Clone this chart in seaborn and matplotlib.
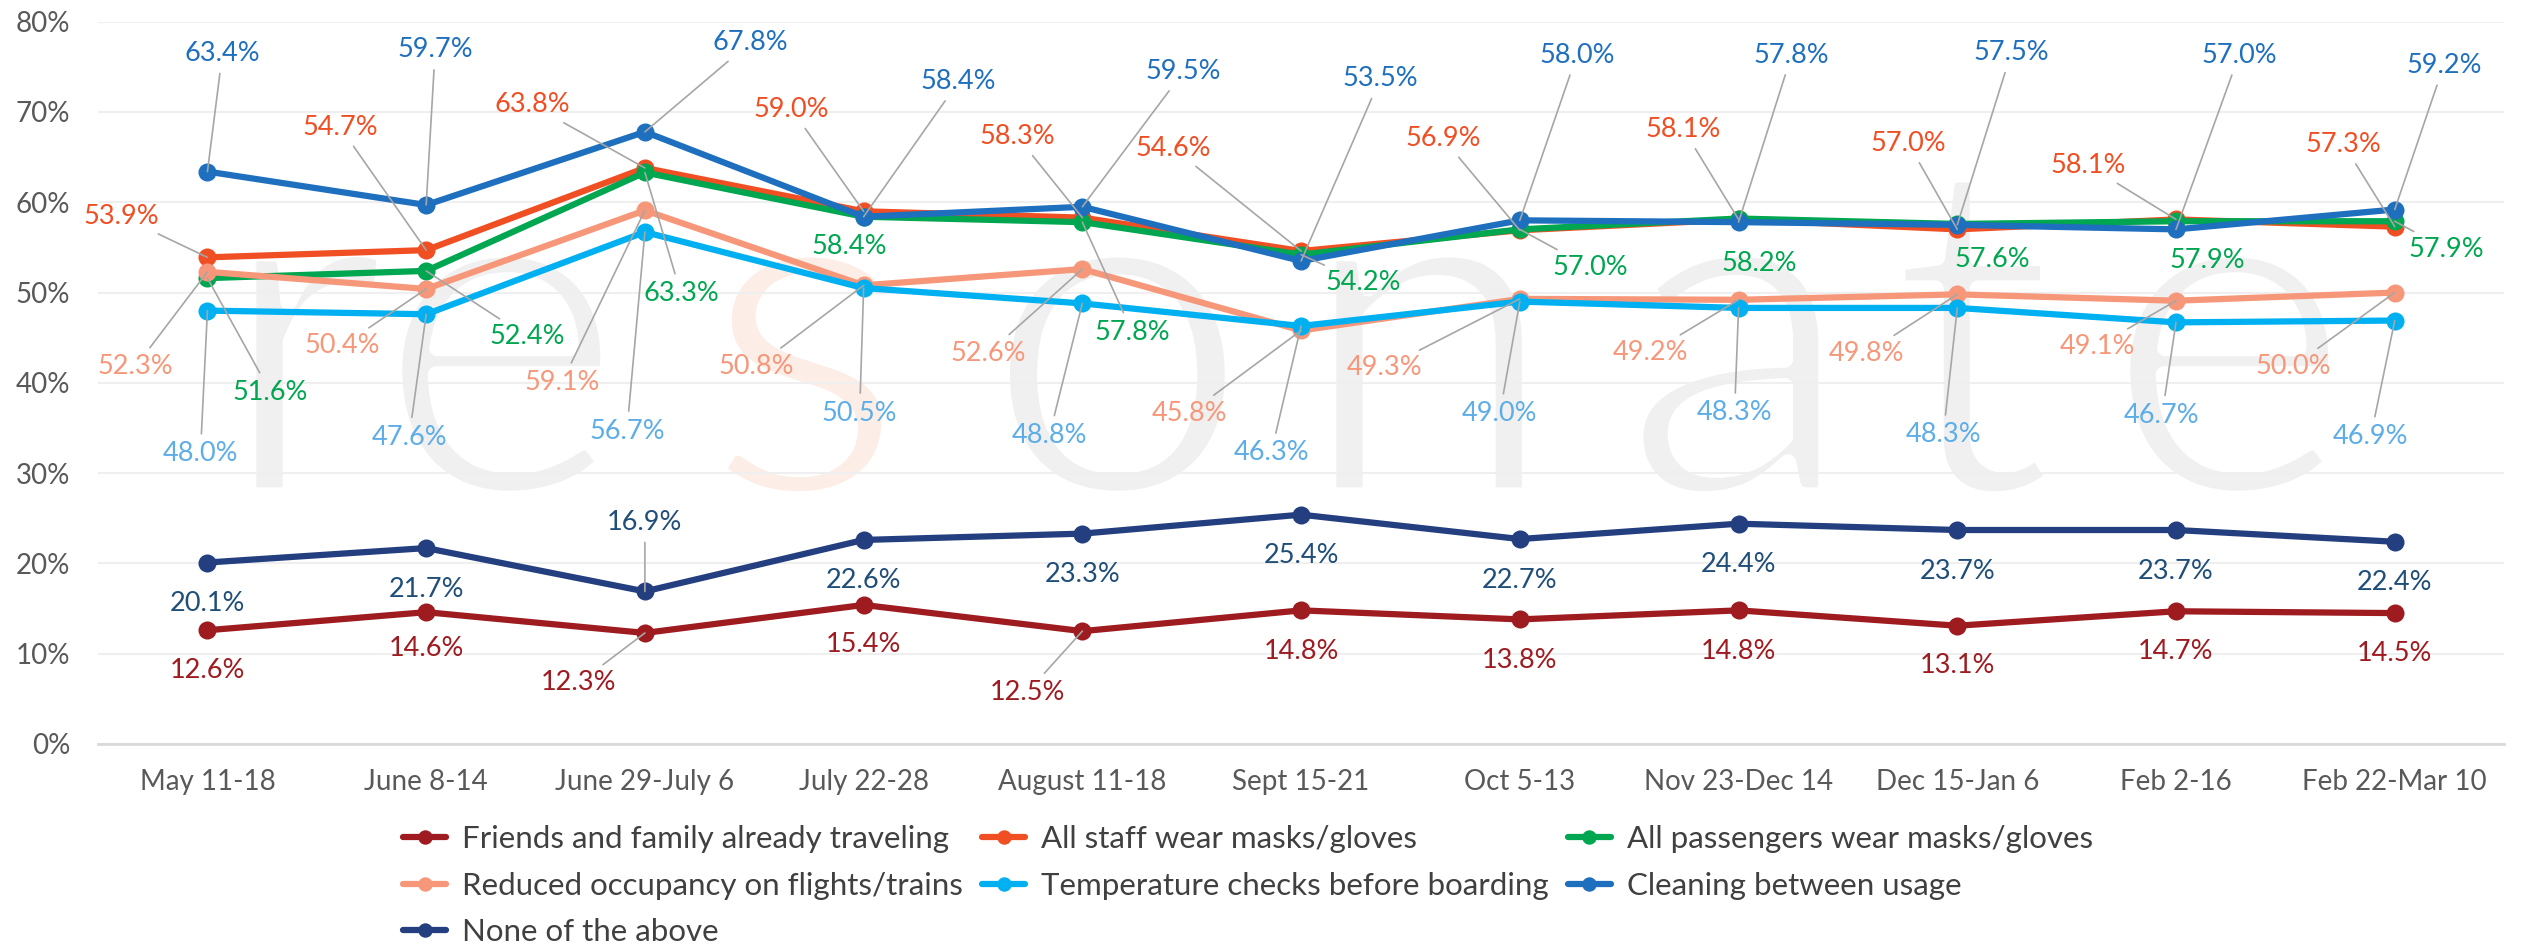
import matplotlib.pyplot as plt
import matplotlib.patheffects as pe
import numpy as np
import pandas as pd
import seaborn as sns

# Survey waves
periods = [
    "May 11-18", "June 8-14", "June 29-July 6", "July 22-28", "August 11-18",
    "Sept 15-21", "Oct 5-13", "Nov 23-Dec 14", "Dec 15-Jan 6", "Feb 2-16",
    "Feb 22-Mar 10",
]

# Share of respondents (%) per wave
friends_family = [12.6, 14.6, 12.3, 15.4, 12.5, 14.8, 13.8, 14.8, 13.1, 14.7, 14.5]
staff_masks = [53.9, 54.7, 63.8, 59.0, 58.3, 54.6, 56.9, 58.1, 57.0, 58.1, 57.3]
passenger_masks = [51.6, 52.4, 63.3, 58.4, 57.8, 54.2, 57.0, 58.2, 57.6, 57.9, 57.9]
reduced_occupancy = [52.3, 50.4, 59.1, 50.8, 52.6, 45.8, 49.3, 49.2, 49.8, 49.1, 50.0]
temperature_checks = [48.0, 47.6, 56.7, 50.5, 48.8, 46.3, 49.0, 48.3, 48.3, 46.7, 46.9]
cleaning = [63.4, 59.7, 67.8, 58.4, 59.5, 53.5, 58.0, 57.8, 57.5, 57.0, 59.2]
none_above = [20.1, 21.7, 16.9, 22.6, 23.3, 25.4, 22.7, 24.4, 23.7, 23.7, 22.4]

series_names = [
    "Friends and family already traveling",
    "All staff wear masks/gloves",
    "All passengers wear masks/gloves",
    "Reduced occupancy on flights/trains",
    "Temperature checks before boarding",
    "Cleaning between usage",
    "None of the above",
]
series_values = [
    friends_family, staff_masks, passenger_masks, reduced_occupancy,
    temperature_checks, cleaning, none_above,
]

line_colors = ["#9E1B20", "#F04E23", "#00A650", "#F7977A", "#00B0F0", "#1F6FBF", "#243F7F"]
label_colors = ["#9E1B20", "#F04E23", "#00A650", "#F7977A", "#5DADE8", "#1F6FBF", "#1F4E79"]

# where each value label sits relative to its point (pixels, up is positive)
label_offsets = [
    [(0, -40), (0, -36), (-66, -50), (0, -40), (-55, -61), (0, -41), (0, -41),
     (0, -41), (0, -40), (0, -40), (0, -40)],
    [(-86, 41), (-86, 123), (-113, 63), (-72, 102), (-65, 81), (-128, 103),
     (-77, 92), (-55, 90), (-49, 86), (-88, 54), (-51, 82)],
    [(63, -114), (101, -66), (36, -121), (-14, -30), (50, -110), (62, -28),
     (70, -38), (21, -45), (35, -36), (31, -39), (52, -28)],
    [(-72, -95), (-84, -57), (-83, -172), (-107, -81), (-94, -84), (-112, -83),
     (-135, -69), (-88, -53), (-91, -59), (-79, -46), (-102, -74)],
    [(-7, -143), (-17, -123), (-18, -199), (-4, -125), (-33, -132), (-30, -127),
     (-20, -112), (-4, -105), (-14, -127), (-14, -93), (-24, -116)],
    [(15, 118), (9, 155), (105, 89), (95, 135), (101, 135), (79, 182),
     (57, 165), (53, 167), (54, 172), (63, 174), (49, 144)],
    [(0, -41), (0, -41), (0, 69), (0, -41), (0, -41), (0, -41), (0, -41),
     (0, -41), (0, -41), (0, -41), (0, -41)],
]

# watermark letters and where they sit along the category axis
watermark_letters = list("resonate")
watermark_x = [0.43, 1.34, 2.73, 4.16, 5.58, 7.0, 8.07, 9.24]
watermark_colors = ["#F0F0F0", "#F0F0F0", "#FCEEE6", "#F0F0F0", "#F0F0F0",
                    "#F0F0F0", "#F0F0F0", "#F0F0F0"]

sns.set_style("white")
plt.rcParams["font.family"] = ["Lato", "DejaVu Sans"]

fig = plt.figure(figsize=(25.21, 9.48), dpi=100)
ax = fig.add_axes([0.0389, 0.2152, 0.9544, 0.7619])

# faint brand watermark behind the data (white outline thins the strokes)
thin = [pe.Normal(), pe.Stroke(linewidth=12, foreground="white")]
for letter, wx, wc in zip(watermark_letters, watermark_x, watermark_colors):
    ax.text(wx, 27.5, letter, ha="center", va="baseline", fontsize=345,
            fontweight="normal", color=wc, zorder=0, path_effects=thin)

x_pos = np.arange(len(periods))
for name, values, color in zip(series_names, series_values, line_colors):
    df = pd.DataFrame({"x": x_pos, "y": values})
    sns.lineplot(data=df, x="x", y="y", ax=ax, color=color, linewidth=4.5,
                 marker="o", markersize=13, markeredgewidth=0, label=name,
                 zorder=3)

# value labels with grey leader lines when far from the point
for values, tcolor, offsets in zip(series_values, label_colors, label_offsets):
    for i, (v, (dx, dy)) in enumerate(zip(values, offsets)):
        far = np.hypot(dx, dy) > 55 and not (dx == 0 and abs(dy) < 45)
        ax.annotate(
            f"{v:.1f}%", xy=(i, v), xytext=(dx, dy), textcoords="offset pixels",
            ha="center", va="center", fontsize=19.5, color=tcolor, zorder=5,
            arrowprops=dict(arrowstyle="-", color="#A6A6A6", lw=1.2,
                            shrinkA=3, shrinkB=0) if far else None,
        )

ax.set_xlim(-0.5, len(periods) - 0.5)
ax.set_ylim(0, 80)
ax.set_yticks(range(0, 81, 10))
ax.set_yticklabels([f"{t}%" for t in range(0, 81, 10)])
ax.set_xticks(x_pos)
ax.set_xticklabels(periods)
ax.set_xlabel("")
ax.set_ylabel("")
ax.tick_params(axis="both", length=0, labelsize=20, labelcolor="#595959")
ax.tick_params(axis="y", pad=20)
ax.tick_params(axis="x", pad=18)
ax.grid(axis="y", color="#EFEFEF", linewidth=1.5)
ax.set_axisbelow(True)
for side in ["top", "right", "left"]:
    ax.spines[side].set_visible(False)
ax.spines["bottom"].set_color("#D9D9D9")
ax.spines["bottom"].set_linewidth(2)

# legend filled row by row like the original
handles, labels = ax.get_legend_handles_labels()
order = [0, 3, 6, 1, 4, 2, 5]
ax.legend(
    [handles[k] for k in order], [labels[k] for k in order],
    loc="upper center", bbox_to_anchor=(0.495, 0.153), bbox_transform=fig.transFigure,
    ncol=3, frameon=False, fontsize=22.5, labelcolor="#404040",
    handlelength=1.4, handletextpad=0.5, columnspacing=0.6, labelspacing=0.6,
    markerscale=0.8, borderpad=0.2,
)

fig.savefig("out.png", dpi=100)
plt.close(fig)
